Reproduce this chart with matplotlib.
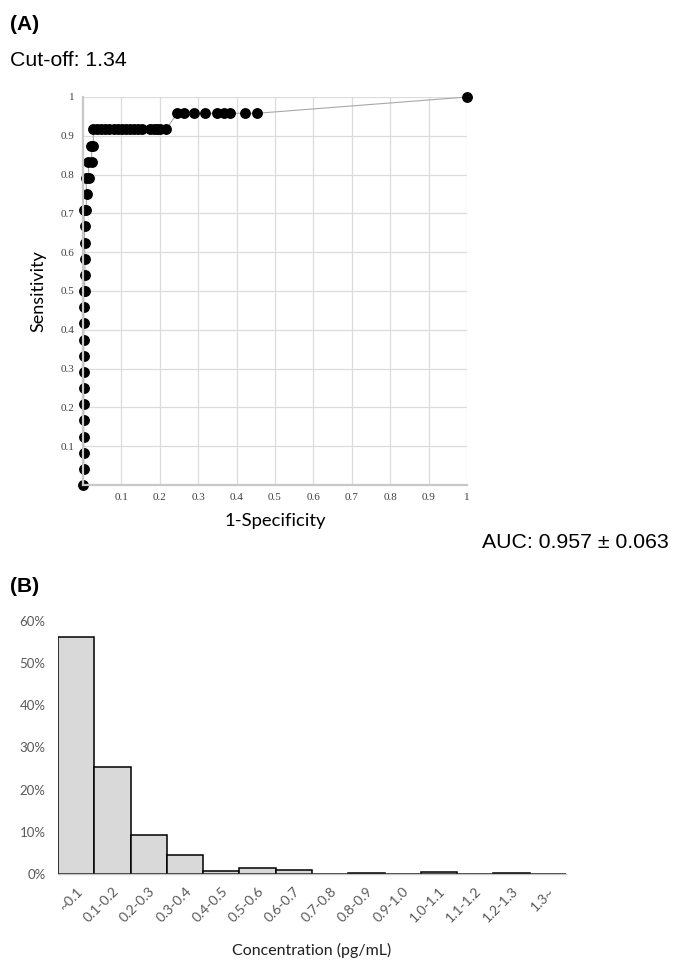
import matplotlib
matplotlib.use("Agg")
import matplotlib.pyplot as plt
from matplotlib.ticker import FuncFormatter

# ---------------- data ----------------
roc_fpr = [0.0, 0.002, 0.002, 0.002, 0.002, 0.002, 0.002, 0.002, 0.002, 0.002,
           0.002, 0.002, 0.002, 0.004, 0.005, 0.005, 0.004, 0.004, 0.002, 0.008,
           0.010, 0.007, 0.015, 0.014, 0.023, 0.022, 0.027,
           0.027, 0.036, 0.047, 0.058, 0.069, 0.080, 0.090, 0.101, 0.112, 0.123,
           0.134, 0.142, 0.154, 0.175, 0.184, 0.193, 0.201, 0.217,
           0.245, 0.262, 0.290, 0.319, 0.348, 0.366, 0.383, 0.421, 0.453,
           1.0]
roc_tpr = [0.0, 0.042, 0.083, 0.125, 0.167, 0.208, 0.250, 0.292, 0.333, 0.375,
           0.417, 0.458, 0.500, 0.500, 0.542, 0.583, 0.625, 0.667, 0.708, 0.708,
           0.750, 0.792, 0.792, 0.833, 0.833, 0.875, 0.875,
           0.917, 0.917, 0.917, 0.917, 0.917, 0.917, 0.917, 0.917, 0.917, 0.917,
           0.917, 0.917, 0.917, 0.917, 0.917, 0.917, 0.917, 0.917,
           0.958, 0.958, 0.958, 0.958, 0.958, 0.958, 0.958, 0.958, 0.958,
           1.0]
roc_ticks = [0.1, 0.2, 0.3, 0.4, 0.5, 0.6, 0.7, 0.8, 0.9, 1.0]
roc_ticklabels = ["0.1", "0.2", "0.3", "0.4", "0.5", "0.6", "0.7", "0.8", "0.9", "1"]

hist_categories = ["~0.1", "0.1-0.2", "0.2-0.3", "0.3-0.4", "0.4-0.5", "0.5-0.6",
                   "0.6-0.7", "0.7-0.8", "0.8-0.9", "0.9-1.0", "1.0-1.1", "1.1-1.2",
                   "1.2-1.3", "1.3~"]
hist_values = [0.562, 0.253, 0.092, 0.044, 0.008, 0.015, 0.010, 0.001, 0.003,
               0.001, 0.005, 0.0, 0.002, 0.0]
hist_yticks = [0.0, 0.1, 0.2, 0.3, 0.4, 0.5, 0.6]

# ---------------- figure ----------------
W, H = 673, 960
fig = plt.figure(figsize=(W / 100, H / 100), dpi=100)

def fx(px):
    return px / W

def fy(py):
    return 1 - py / H

# Panel A
fig.text(fx(10), fy(24), "(A)", family="Liberation Sans", weight="bold",
         fontsize=15, va="center", ha="left")
fig.text(fx(10), fy(60), "Cut-off: 1.34", family="Liberation Sans",
         fontsize=15.3, va="center", ha="left")

ax1 = fig.add_axes([fx(83), fy(485), fx(467) - fx(83), fy(97) - fy(485)])
ax1.plot(roc_fpr, roc_tpr, color="#a8a8a8", lw=0.8, zorder=2,
         marker="o", markersize=6.8, markerfacecolor="black",
         markeredgecolor="black", clip_on=False)
ax1.set_xlim(0, 1)
ax1.set_ylim(0, 1)
ax1.set_xticks(roc_ticks)
ax1.set_xticklabels(roc_ticklabels)
ax1.set_yticks(roc_ticks)
ax1.set_yticklabels(roc_ticklabels)
ax1.grid(True, color="#dcdcdc", lw=0.9)
ax1.set_axisbelow(True)
for s in ["top", "right"]:
    ax1.spines[s].set_visible(False)
for s in ["left", "bottom"]:
    ax1.spines[s].set_color("#c8c8c8")
    ax1.spines[s].set_linewidth(1.6)
ax1.tick_params(length=0, pad=6, labelsize=8, labelcolor="#404040")
for lab in ax1.get_xticklabels() + ax1.get_yticklabels():
    lab.set_family("Liberation Serif")
ax1.set_xlabel("1-Specificity", family="Lato", fontsize=13.3, labelpad=8)
ax1.set_ylabel("Sensitivity", family="Lato", fontsize=13, labelpad=10)

fig.text(fx(669), fy(542), "AUC: 0.957 \u00b1 0.063", family="Liberation Sans",
         fontsize=15.3, va="center", ha="right")

# Panel B
fig.text(fx(10), fy(587), "(B)", family="Liberation Sans", weight="bold",
         fontsize=15, va="center", ha="left")

ax2 = fig.add_axes([fx(58), fy(874), fx(566) - fx(58), fy(621) - fy(874)])
xs = list(range(len(hist_categories)))
ax2.bar(xs, hist_values, width=1.0, color="#d9d9d9", edgecolor="black",
        linewidth=1.1, zorder=2)
ax2.set_xlim(-0.5, len(hist_categories) - 0.5)
ax2.set_ylim(0, 0.6)
ax2.set_yticks(hist_yticks)
ax2.yaxis.set_major_formatter(FuncFormatter(lambda v, p: f"{v * 100:.0f}%"))
ax2.set_xticks(xs)
ax2.set_xticklabels(hist_categories, rotation=45, ha="right",
                    rotation_mode="anchor")
for s in ["top", "right", "left"]:
    ax2.spines[s].set_visible(False)
ax2.spines["bottom"].set_color("#c8c8c8")
ax2.spines["bottom"].set_linewidth(1.0)
ax2.tick_params(length=0, labelcolor="#595959")
ax2.tick_params(axis="y", pad=9, labelsize=9.5)
ax2.tick_params(axis="x", pad=8, labelsize=10)
for lab in ax2.get_xticklabels() + ax2.get_yticklabels():
    lab.set_family("Lato")
ax2.set_xlabel("Concentration (pg/mL)", family="Lato", fontsize=11.5,
               labelpad=13, color="#202020")

fig.savefig("out.png", dpi=100)
